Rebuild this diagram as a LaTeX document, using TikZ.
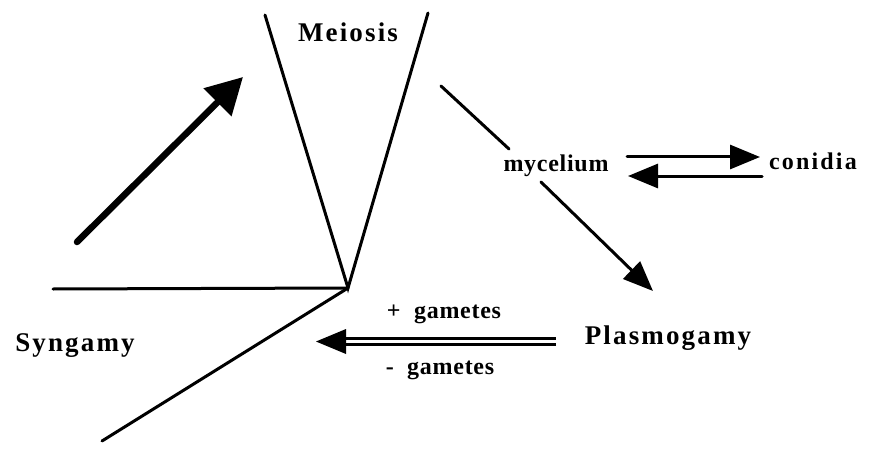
\documentclass[tikz,border=0pt]{standalone}
\usepackage{fontspec}
\setmainfont{Liberation Serif}
\usetikzlibrary{arrows.meta}
\tikzset{
  ln/.style={line width=3pt, line cap=round},
  lbl/.style={font=\bfseries\addfontfeatures{LetterSpace=8}\fontsize{27}{30}\selectfont, inner sep=0pt},
  sm/.style={font=\bfseries\addfontfeatures{LetterSpace=3}\fontsize{24}{27}\selectfont, inner sep=0pt},
  smw/.style={font=\bfseries\addfontfeatures{LetterSpace=9}\fontsize{24}{27}\selectfont, inner sep=0pt},
  tip/.style={-{Triangle[length=30pt,width=24pt]}},
}
\begin{document}
\begin{tikzpicture}[x=1pt,y=-1pt]
\useasboundingbox (0,0) rectangle (882,449);
% labels
\node[lbl] (mei) at (348,32) {Meiosis};
\node[lbl] (syn) at (75,346) {Syngamy};
\node[lbl] (pla) at (668,338) {Plasmogamy};
\node[sm] (myc) at (556,166) {mycelium};
\node[smw] (con) at (813,161) {conidia};
\node[sm] (gp) at (444,314) {+ \ gametes};
\node[sm] (gm) at (440,370) {- \ gametes};
% coordinates
\coordinate (apex) at (348,288);
\coordinate (vl) at (265,15);
\coordinate (vr) at (428,13);
\coordinate (hl) at (53,289);
\coordinate (lo) at (102,441);
\coordinate (ta) at (77,242);
\coordinate (tb) at (243,77);
\coordinate (ma) at (441,86);
\coordinate (mb) at (509,149);
\coordinate (c1a) at (627,157);
\coordinate (c1b) at (760,157);
\coordinate (c2a) at (762,176);
\coordinate (c2b) at (628,176);
\coordinate (pa) at (541,182);
\coordinate (pb) at (653,291);
\coordinate (ga) at (556,341.5);
\coordinate (gc) at (344,341.5);
\coordinate (gb) at (316,341.5);
\coordinate (gt) at (346,329);
\coordinate (gu) at (346,354);
% V of meiosis and branches
\draw[ln, line join=miter] (vl) -- (apex) -- (vr);
\draw[ln] (hl) -- (apex);
\draw[ln] (apex) -- (lo);
% thick arrow
\draw[line width=6.5pt, line cap=round, -{Triangle[length=36pt,width=38pt]}] (ta) -- (tb);
% mycelium links
\draw[ln] (ma) -- (mb);
\draw[ln, tip] (c1a) -- (c1b);
\draw[ln, tip] (c2a) -- (c2b);
\draw[ln, tip] (pa) -- (pb);
% double arrow
\draw[line width=8.5pt] (ga) -- (gc);
\draw[line width=3pt, white] (ga) -- (gc);
\fill (gb) -- (gt) -- (gu) -- cycle;
\end{tikzpicture}
\end{document}
